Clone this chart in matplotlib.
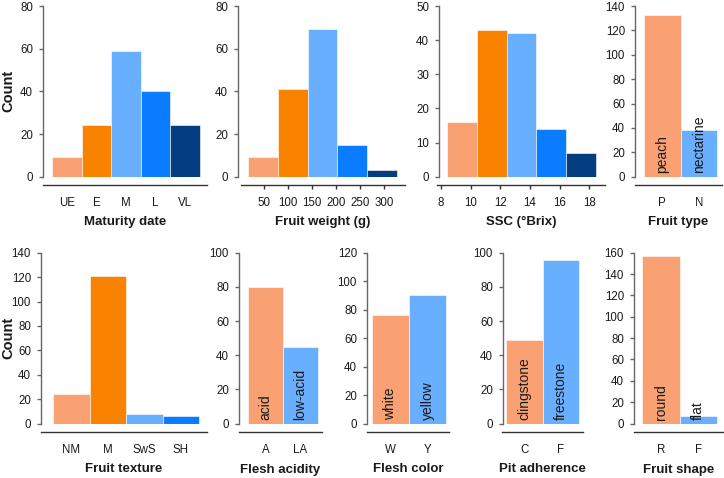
import numpy as np
import matplotlib
matplotlib.use("Agg")
import matplotlib.pyplot as plt

plt.rcParams['font.family'] = ['Liberation Sans', 'DejaVu Sans']

# data
maturity_cats = ['UE', 'E', 'M', 'L', 'VL']
maturity_counts = [9, 24, 59, 40, 24]

weight_edges = [17, 79, 141, 203, 265, 327]
weight_counts = [9, 41, 69, 15, 3]
weight_ticks = [50, 100, 150, 200, 250, 300]

ssc_edges = [8.4, 10.41, 12.42, 14.43, 16.44, 18.45]
ssc_counts = [16, 43, 42, 14, 7]
ssc_ticks = [8, 10, 12, 14, 16, 18]

type_cats = ['P', 'N']
type_names = ['peach', 'nectarine']
type_counts = [133, 38]

texture_cats = ['NM', 'M', 'SwS', 'SH']
texture_counts = [24, 121, 8, 6]

acidity_cats = ['A', 'LA']
acidity_names = ['acid', 'low-acid']
acidity_counts = [80, 45]

color_cats = ['W', 'Y']
color_names = ['white', 'yellow']
color_counts = [76, 90]

pit_cats = ['C', 'F']
pit_names = ['clingstone', 'freestone']
pit_counts = [49, 96]

shape_cats = ['R', 'F']
shape_names = ['round', 'flat']
shape_counts = [157, 7]

palette = ['#F9A173', '#F98200', '#69AFFF', '#0A7CFF', '#053E80']
two_cols = [palette[0], palette[2]]

W, H = 724, 478
fig = plt.figure(figsize=(W / 100, H / 100), dpi=100)

TICK_FS = 8.3
LAB_FS = 9.5
PX = 0.72  # points per pixel


def make_ax(line_l, line_r, y0, ytop, yaxis_x, ymax, ystep):
    ax = fig.add_axes([line_l / W, 1 - y0 / H, (line_r - line_l) / W, (y0 - ytop) / H])
    ax.set_ylim(0, ymax)
    ax.set_yticks(np.arange(0, ymax + 1, ystep))
    for s in ['top', 'right']:
        ax.spines[s].set_visible(False)
    ax.spines['left'].set_position(('axes', (yaxis_x - line_l) / (line_r - line_l)))
    ax.spines['left'].set_color('#666666')
    ax.spines['left'].set_linewidth(1.0)
    ax.spines['bottom'].set_position(('outward', 8 * PX))
    ax.spines['bottom'].set_color('#333333')
    ax.spines['bottom'].set_linewidth(1.0)
    ax.tick_params(axis='y', length=4 * PX, width=1.0, color='#666666', pad=6 * PX,
                   labelsize=TICK_FS, labelcolor='#1a1a1a')
    ax.patch.set_alpha(0)
    return ax


def xlabel(line_l, line_r, base_y, text):
    fig.text((line_l + line_r) / 2 / W, 1 - base_y / H, text, ha='center', va='baseline',
             fontsize=LAB_FS, fontweight='bold', color='#1a1a1a')


def cat_panel(line_l, line_r, y0, ytop, yaxis_x, bar_l, bar_r, cats, counts, cols,
              ymax, ystep, label, base_y, names=None):
    ax = make_ax(line_l, line_r, y0, ytop, yaxis_x, ymax, ystep)
    n = len(cats)
    ppu = (bar_r - bar_l) / n
    ax.set_xlim(-0.5 - (bar_l - line_l) / ppu, n - 0.5 + (line_r - bar_r) / ppu)
    x = np.arange(n)
    ax.bar(x, counts, width=1.0, color=cols, edgecolor='white', linewidth=0.4)
    ax.set_xticks(x)
    ax.set_xticklabels(cats)
    ax.tick_params(axis='x', length=0, pad=9.2, labelsize=TICK_FS, labelcolor='#1a1a1a')
    if names is not None:
        for xi, nm in zip(x, names):
            ax.annotate(nm, (xi, 0), xytext=(0, 4 * PX), textcoords='offset points',
                        rotation=90, ha='center', va='bottom', fontsize=10, color='#1a1a1a')
    xlabel(line_l, line_r, base_y, label)
    return ax


def hist_panel(line_l, line_r, y0, ytop, yaxis_x, tick0_px, tick1_px, ticks, edges, counts,
               ymax, ystep, label, base_y):
    ax = make_ax(line_l, line_r, y0, ytop, yaxis_x, ymax, ystep)
    ppu = (tick1_px - tick0_px) / (ticks[-1] - ticks[0])
    ax.set_xlim(ticks[0] - (tick0_px - line_l) / ppu, ticks[-1] + (line_r - tick1_px) / ppu)
    ax.bar(edges[:-1], counts, width=np.diff(edges), align='edge',
           color=palette[:len(counts)], edgecolor='white', linewidth=0.4)
    ax.set_xticks(ticks)
    ax.tick_params(axis='x', length=4 * PX, width=1.0, color='#333333', pad=6.3,
                   labelsize=TICK_FS, labelcolor='#1a1a1a')
    xlabel(line_l, line_r, base_y, label)
    return ax


# top row
TY0, TTOP, TBASE = 176.7, 6.0, 224.5
cat_panel(43, 207, TY0, TTOP, 43, 52, 200, maturity_cats, maturity_counts, palette,
          80, 20, 'Maturity date', TBASE)
hist_panel(241, 405, TY0, TTOP, 238, 264, 384, weight_ticks, weight_edges, weight_counts,
           80, 20, 'Fruit weight (g)', TBASE)
hist_panel(437, 605, TY0, TTOP, 439, 441, 589.3, ssc_ticks, ssc_edges, ssc_counts,
           50, 10, 'SSC (°Brix)', TBASE)
cat_panel(635, 722, TY0, TTOP, 635, 644, 717, type_cats, type_counts, two_cols,
          140, 20, 'Fruit type', TBASE, type_names)

# bottom row
BY0, BTOP, BBASE = 423.5, 252.7, 472.5
cat_panel(41, 207, BY0, BTOP, 41, 53, 199, texture_cats, texture_counts, palette[:4],
          140, 20, 'Fruit texture', BBASE)
cat_panel(239, 322, BY0, BTOP, 239, 248, 318, acidity_cats, acidity_counts, two_cols,
          100, 20, 'Flesh acidity', BBASE, acidity_names)
cat_panel(367, 449, BY0, BTOP, 367, 372, 446, color_cats, color_counts, two_cols,
          120, 20, 'Flesh color', BBASE, color_names)
cat_panel(502, 583, BY0, BTOP, 503, 506, 579, pit_cats, pit_counts, two_cols,
          100, 20, 'Pit adherence', BBASE, pit_names)
cat_panel(634, 724, BY0, BTOP, 634, 642, 717, shape_cats, shape_counts, two_cols,
          160, 20, 'Fruit shape', BBASE, shape_names)

# shared y labels
for yc in [91, 337.5]:
    fig.text(8.5 / W, 1 - yc / H, 'Count', rotation=90, ha='center', va='center',
             fontsize=10.5, fontweight='bold', color='#1a1a1a')

fig.savefig('out.png', dpi=100)
